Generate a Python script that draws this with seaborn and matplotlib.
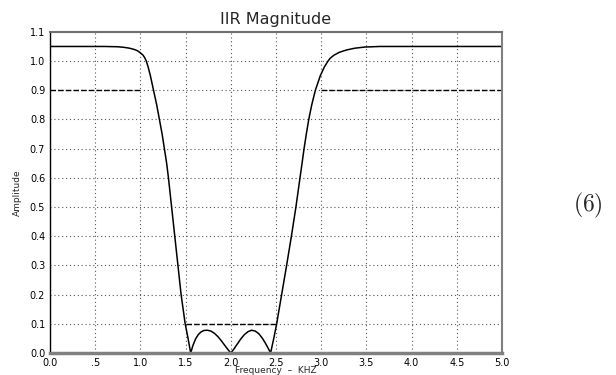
import pandas as pd
import numpy as np
import matplotlib
matplotlib.use("Agg")
import matplotlib.pyplot as plt
import seaborn as sns

# === Werte ===
freq_khz = [0.0, 0.25, 0.5, 0.6, 0.75, 0.82, 0.88, 0.93, 0.97, 1.0, 1.03,
            1.05, 1.065, 1.085, 1.11, 1.145, 1.18, 1.21, 1.24, 1.265, 1.29,
            1.31, 1.345, 1.38, 1.415, 1.45, 1.495, 1.527, 1.556,
            1.58, 1.61, 1.64, 1.67, 1.70, 1.74, 1.78, 1.82, 1.86, 1.90, 1.94,
            1.97, 2.0,
            2.03, 2.07, 2.11, 2.15, 2.19, 2.23, 2.27, 2.31, 2.35, 2.38, 2.41,
            2.44,
            2.475, 2.507, 2.562, 2.617, 2.67, 2.72, 2.765, 2.788, 2.81, 2.835,
            2.862, 2.895, 2.935, 2.99, 3.035, 3.075, 3.1, 3.14, 3.2, 3.28,
            3.37, 3.48, 3.65, 4.0, 4.5, 5.0]
amplitude = [1.05, 1.05, 1.05, 1.05, 1.049, 1.047, 1.044, 1.04, 1.035, 1.028,
             1.02, 1.01, 1.0, 0.98, 0.95, 0.9, 0.85, 0.8, 0.75, 0.7, 0.65,
             0.6, 0.5, 0.4, 0.3, 0.2, 0.1, 0.05, 0.0,
             0.025, 0.048, 0.063, 0.072, 0.077, 0.078, 0.075, 0.067, 0.055,
             0.040, 0.023, 0.011, 0.0,
             0.012, 0.030, 0.048, 0.063, 0.073, 0.078, 0.075, 0.066, 0.050,
             0.035, 0.018, 0.0,
             0.05, 0.1, 0.2, 0.3, 0.4, 0.5, 0.6, 0.65, 0.7, 0.75,
             0.8, 0.85, 0.9, 0.95, 0.98, 1.0, 1.01, 1.02, 1.03, 1.038,
             1.044, 1.048, 1.05, 1.05, 1.05, 1.05]

# Toleranzschema (gestrichelt)
pass_lo_x = [0.0, 1.0]
pass_lo_y = [0.9, 0.9]
stop_x = [1.5, 2.5]
stop_y = [0.1, 0.1]
pass_hi_x = [3.0, 5.0]
pass_hi_y = [0.9, 0.9]

x_ticks = [0.0, 0.5, 1.0, 1.5, 2.0, 2.5, 3.0, 3.5, 4.0, 4.5, 5.0]
x_labels = ["0.0", ".5", "1.0", "1.5", "2.0", "2.5", "3.0", "3.5", "4.0", "4.5", "5.0"]
y_ticks = [0.0, 0.1, 0.2, 0.3, 0.4, 0.5, 0.6, 0.7, 0.8, 0.9, 1.0, 1.1]
y_labels = ["0.0", "0.1", "0.2", "0.3", "0.4", "0.5", "0.6", "0.7", "0.8", "0.9", "1.0", "1.1"]

df = pd.DataFrame({"f": freq_khz, "a": amplitude})

sns.set_style("white")
plt.rcParams["font.family"] = ["DejaVu Sans"]
plt.rcParams["mathtext.fontset"] = "cm"

fig = plt.figure(figsize=(6.16, 3.75), dpi=100)
ax = fig.add_axes([0.0812, 0.0587, 0.7338, 0.8563])

sns.lineplot(data=df, x="f", y="a", color="black", linewidth=1.1, ax=ax,
             sort=False, estimator=None)
for sx, sy in [(pass_lo_x, pass_lo_y), (stop_x, stop_y), (pass_hi_x, pass_hi_y)]:
    sns.lineplot(x=sx, y=sy, color="black", linewidth=1.0, ax=ax,
                 linestyle=(0, (4, 1.5)), estimator=None)

ax.set_xlim(0, 5)
ax.set_ylim(0, 1.1)
ax.set_xticks(x_ticks)
ax.set_xticklabels(x_labels)
ax.set_yticks(y_ticks)
ax.set_yticklabels(y_labels)
ax.grid(True, linestyle=(0, (1, 2.5)), color="#555555", linewidth=0.8)
ax.set_axisbelow(True)

ax.tick_params(axis="both", direction="out", length=3, width=1, pad=0.5,
               labelsize=7, colors="black")

ax.spines["left"].set_color("black")
ax.spines["left"].set_linewidth(1.0)
ax.spines["bottom"].set_color("#808080")
ax.spines["bottom"].set_linewidth(2.5)
ax.spines["top"].set_color("#707070")
ax.spines["top"].set_linewidth(1.5)
ax.spines["right"].set_color("#808080")
ax.spines["right"].set_linewidth(1.5)
for sp in ax.spines.values():
    sp.set_visible(True)

ax.set_title("IIR Magnitude", fontsize=11.5, pad=6)
ax.set_xlabel("Frequency  \u2013  KHZ", fontsize=6.5, labelpad=-1)
ax.set_ylabel("Amplitude", fontsize=6.5, labelpad=6)

fig.text(0.955, 0.453, r"$(6)$", fontsize=17, ha="center", va="center")

fig.savefig("out.png", dpi=100)
